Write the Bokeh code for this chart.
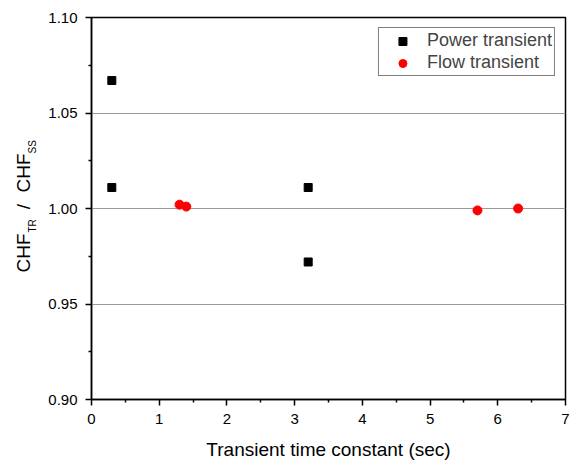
import math
from bokeh.plotting import figure
from bokeh.layouts import row
from bokeh.models import (Range1d, FixedTicker, Legend, LegendItem, NumeralTickFormatter)
from bokeh.core.properties import value
from bokeh.embed import file_html
from bokeh.resources import INLINE

# ---- data ----
power_x = [0.3, 0.3, 3.2, 3.2]
power_y = [1.067, 1.011, 1.011, 0.972]
flow_x = [1.3, 1.4, 5.7, 6.3]
flow_y = [1.002, 1.001, 0.999, 1.000]
x_ticks = [0, 1, 2, 3, 4, 5, 6, 7]
x_minor = [0.5, 1.5, 2.5, 3.5, 4.5, 5.5, 6.5]
y_ticks = [0.90, 0.95, 1.00, 1.05, 1.10]
y_minor = [0.925, 0.975, 1.025, 1.075]
grid_lines = [0.95, 1.00, 1.05]
x_label = "Transient time constant (sec)"
legend_labels = ["Power transient", "Flow transient"]
y_label_main = ["CHF", "/", "CHF"]
y_label_sub = ["TR", "SS"]

FONT = "Liberation Sans"
H = 462
LW = 45          # width of the y-label strip
W = 525          # width of main plot
TOP, BOTTOM = 17, 63

# ---- y label strip (pixel coordinates, y measured from top of page) ----
lab = figure(width=LW, height=H, output_backend="svg", toolbar_location=None,
             x_range=Range1d(0, LW), y_range=Range1d(H - BOTTOM, TOP),
             min_border_left=0, min_border_right=0, min_border_top=TOP, min_border_bottom=BOTTOM)
lab.axis.visible = False
lab.grid.visible = False
lab.outline_line_color = None
lab.border_fill_color = None
lab.background_fill_color = None
lab.text(x=[23, 23], y=[272, 192], text=[y_label_main[0], y_label_main[2]], angle=math.pi / 2,
         text_align="left", text_baseline="alphabetic", text_font=value(FONT),
         text_font_size=value("19px"), text_color="black")
lab.text(x=[23], y=[206], text=[y_label_main[1]], angle=math.pi / 2,
         text_align="center", text_baseline="alphabetic", text_font=value(FONT),
         text_font_size=value("19px"), text_color="black")
lab.text(x=[32, 32], y=[232, 153], text=y_label_sub, angle=math.pi / 2,
         text_align="left", text_baseline="alphabetic", text_font=value(FONT),
         text_font_size=value("10px"), text_color="black")

# ---- main plot ----
p = figure(width=W, height=H, output_backend="svg", toolbar_location=None,
           x_range=Range1d(0, 7), y_range=Range1d(0.90, 1.10),
           min_border_left=89 - LW, min_border_right=5, min_border_top=TOP, min_border_bottom=BOTTOM)

p.outline_line_color = "black"
p.outline_line_width = 1.5
p.border_fill_color = None
p.background_fill_color = None

p.xgrid.visible = False
p.ygrid.ticker = FixedTicker(ticks=grid_lines)
p.ygrid.grid_line_color = "#9a9a9a"
p.ygrid.grid_line_width = 1

for ax in (p.xaxis[0], p.yaxis[0]):
    ax.axis_line_color = "black"
    ax.axis_line_width = 1.5
    ax.major_tick_line_color = "black"
    ax.minor_tick_line_color = "black"
    ax.major_tick_line_width = 1.5
    ax.minor_tick_line_width = 1.5
    ax.major_tick_in = 0
    ax.major_tick_out = 6
    ax.minor_tick_in = 0
    ax.minor_tick_out = 3
    ax.major_label_text_font = FONT
    ax.major_label_text_font_size = "15px"
    ax.major_label_text_color = "black"

p.xaxis.ticker = FixedTicker(ticks=x_ticks, minor_ticks=x_minor)
p.yaxis.ticker = FixedTicker(ticks=y_ticks, minor_ticks=y_minor)
p.yaxis.formatter = NumeralTickFormatter(format="0.00")
p.xaxis.major_label_standoff = 8
p.yaxis.major_label_standoff = 8

p.xaxis.axis_label = x_label
p.xaxis.axis_label_text_font = FONT
p.xaxis.axis_label_text_font_size = "19px"
p.xaxis.axis_label_text_font_style = "normal"
p.xaxis.axis_label_text_color = "black"
p.xaxis.axis_label_text_line_height = 0.9
p.xaxis.axis_label_standoff = 12

r1 = p.scatter(power_x, power_y, marker="square", size=8, color="black")
r2 = p.scatter(flow_x, flow_y, marker="circle", size=9, color="#ff0000")

legend = Legend(items=[LegendItem(label=legend_labels[0], renderers=[r1]),
                       LegendItem(label=legend_labels[1], renderers=[r2])],
                location="top_right", margin=10, padding=2, spacing=1,
                glyph_width=43, label_standoff=3,
                label_text_font=FONT, label_text_font_size="18px",
                border_line_color="black", border_line_width=1,
                background_fill_color="white", background_fill_alpha=1.0)
p.add_layout(legend)

layout = row(lab, p, spacing=0)
open("out.html", "w").write(file_html(layout, INLINE))
